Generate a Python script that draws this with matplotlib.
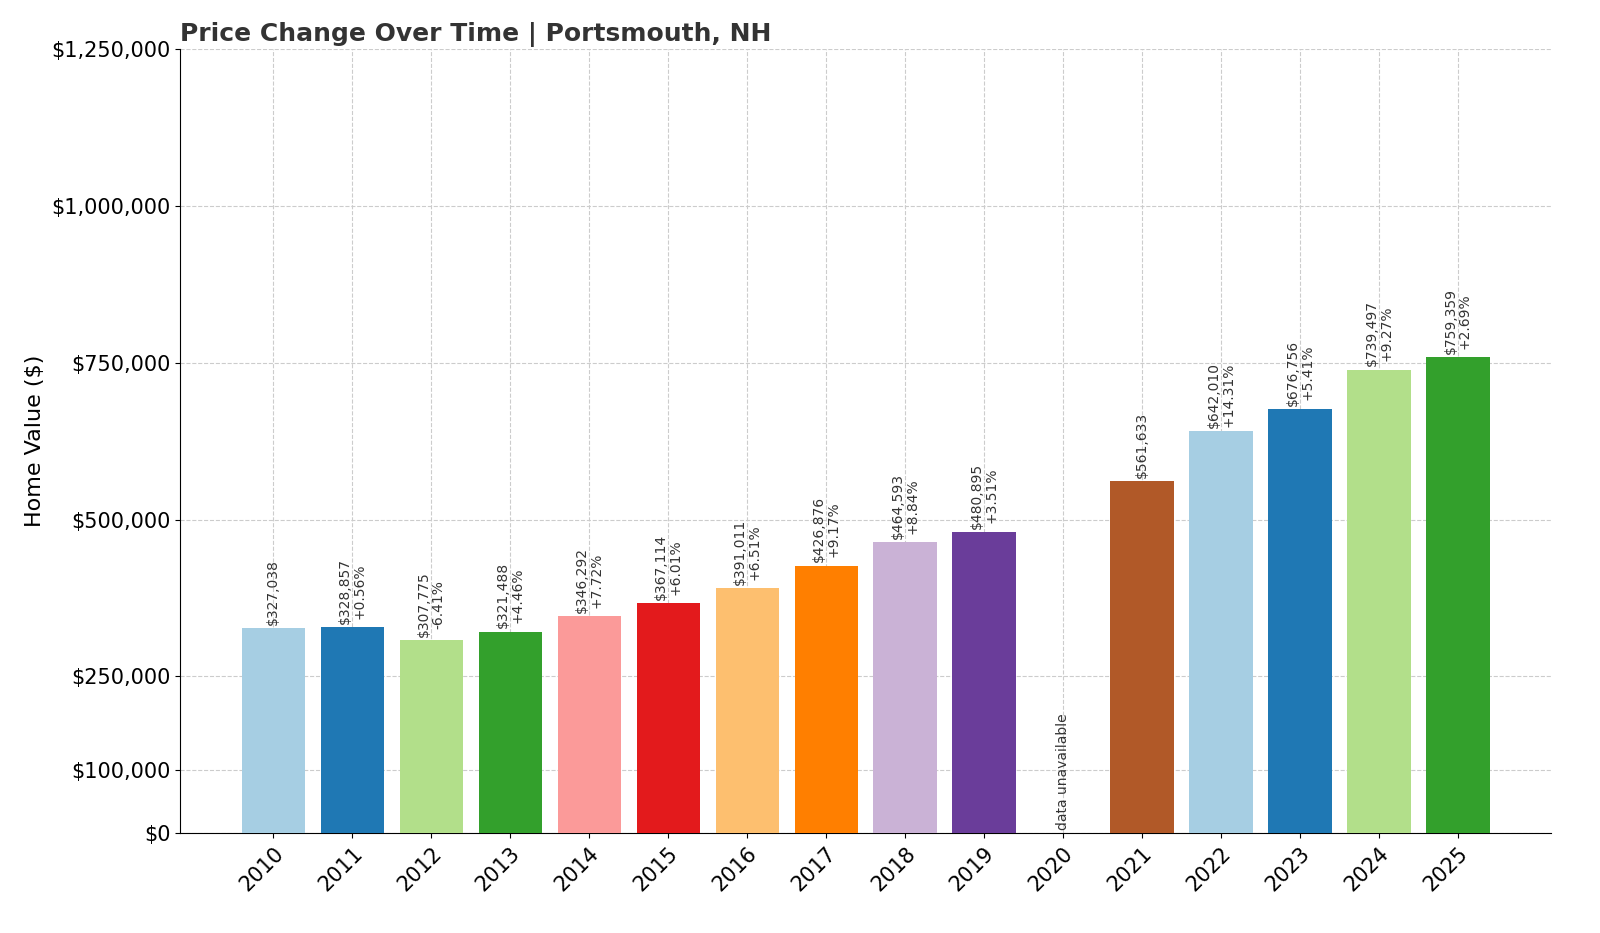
import matplotlib
matplotlib.use("Agg")
import matplotlib.pyplot as plt
import numpy as np

years = [str(y) for y in range(2010, 2026)]
values = [327038, 328857, 307775, 321488, 346292, 367114, 391011, 426876, 464593, 480895,
          None, 561633, 642010, 676756, 739497, 759359]
changes = [None, "+0.56%", "-6.41%", "+4.46%", "+7.72%", "+6.01%", "+6.51%", "+9.17%", "+8.84%", "+3.51%",
           None, None, "+14.31%", "+5.41%", "+9.27%", "+2.69%"]
yticks = [0, 100000, 250000, 500000, 750000, 1000000, 1250000]

fig = plt.figure(figsize=(16, 9.33), dpi=100)
ax = fig.add_axes([0.1125, 0.107, 0.857, 0.84])
cmap = plt.get_cmap("Paired")
x = np.arange(len(years))
for i, (v, c) in enumerate(zip(values, changes)):
    if v is None:
        ax.text(i, 5000, "data unavailable", rotation=90, ha="center", va="bottom", fontsize=10, color="#333333")
        continue
    ax.bar(i, v, width=0.8, color=cmap(i % 12), zorder=3)
    lbl = f"${v:,}" + (f"\n{c}" if c else "")
    ax.text(i, v + 5000, lbl, rotation=90, ha="center", va="bottom", fontsize=10, color="#333333",
            linespacing=1.0)

ax.set_xticks(x)
ax.set_xticklabels(years, rotation=45, ha="right", rotation_mode="anchor", fontsize=15)
ax.set_yticks(yticks)
ax.set_yticklabels([f"${t:,}" for t in yticks], fontsize=15)
ax.set_ylim(0, 1250000)
ax.set_xlim(-1.18, 16.18)
ax.set_ylabel("Home Value ($)", fontsize=16)
ax.set_title("Price Change Over Time | Portsmouth, NH", loc="left", fontsize=18, fontweight="bold", color="#333333")
ax.grid(True, linestyle="--", color="#cccccc", linewidth=0.8, zorder=0)
ax.spines["top"].set_visible(False)
ax.spines["right"].set_visible(False)
fig.savefig("out.png", dpi=100)
